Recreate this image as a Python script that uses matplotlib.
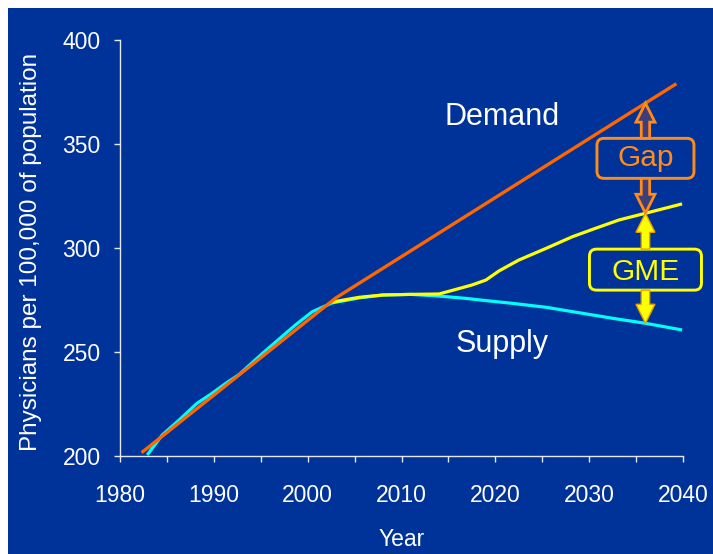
import matplotlib
matplotlib.use('Agg')
import matplotlib.pyplot as plt
import numpy as np
from matplotlib.patches import Rectangle, FancyBboxPatch, Polygon
from matplotlib.transforms import IdentityTransform
from matplotlib.ticker import MultipleLocator

plt.rcParams['font.family'] = ['Liberation Sans', 'DejaVu Sans']

# ---------------- data ----------------
demand_years = [1982.3, 2003.0, 2039.3]
demand_vals = [201.6, 276.0, 379.0]

supply_years = [1982.9, 1984.5, 1986.3, 1988.2, 1989.8, 1991.3, 1992.7, 1995.2,
                1996.9, 1998.7, 2000.5, 2002.6, 2005.5, 2008.0, 2011.0, 2014.0,
                2016.8, 2019.0, 2021.8, 2025.4, 2028.9, 2032.5, 2036.0, 2039.9]
supply_vals = [200.5, 210.1, 217.3, 225.3, 230.1, 235.0, 239.2, 249.4,
               256.0, 263.0, 269.4, 273.6, 276.0, 277.4, 277.7, 276.9,
               275.8, 274.7, 273.4, 271.5, 268.9, 266.2, 263.8, 260.6]

gme_years = [2002.6, 2005.5, 2008.0, 2011.0, 2014.0, 2015.8, 2017.5, 2019.0,
             2020.4, 2022.5, 2025.4, 2028.2, 2030.7, 2033.2, 2036.0, 2039.9]
gme_vals = [274.0, 276.3, 277.4, 277.7, 277.9, 280.1, 282.2, 284.6,
            289.0, 294.2, 299.8, 305.4, 309.5, 313.5, 316.7, 321.2]

x_ticks = [1980, 1990, 2000, 2010, 2020, 2030, 2040]
y_ticks = [200, 250, 300, 350, 400]
marker_year = 2036.0

# ---------------- style ----------------
BG = '#003399'
AXC = '#E6E9F2'
C_DEM = '#FF6600'
C_SUP = '#00FFFF'
C_GME = '#FFFF00'
C_GAP = '#FF8C1A'

W, H = 713, 554
fig = plt.figure(figsize=(W / 100, H / 100), dpi=100)
fig.patch.set_facecolor('white')
fig.add_artist(Rectangle((8 / W, 0), (W - 8) / W, (H - 8) / H,
                         transform=fig.transFigure, facecolor=BG,
                         edgecolor='none', zorder=0))

ax = fig.add_axes([120 / W, 98 / H, 563 / W, 416 / H])
ax.set_facecolor('none')
ax.set_xlim(1980, 2040)
ax.set_ylim(200, 400)

for s in ['top', 'right']:
    ax.spines[s].set_visible(False)
for s in ['left', 'bottom']:
    ax.spines[s].set_color(AXC)
    ax.spines[s].set_linewidth(1.0)

ax.set_xticks(x_ticks)
ax.xaxis.set_minor_locator(MultipleLocator(5))
ax.set_yticks(y_ticks)
ax.tick_params(axis='x', which='both', direction='out', length=4.0, width=1,
               color=AXC, labelcolor='white', labelsize=16.5, pad=16.2)
ax.tick_params(axis='y', which='both', direction='out', length=4.3, width=1,
               color=AXC, labelcolor='white', labelsize=16.5, pad=9.5)

ax.set_xlabel('Year', fontsize=16.5, color='white', va='baseline')
ax.xaxis.set_label_coords(0.5, -90 / 416)
ax.set_ylabel('Physicians per 100,000 of population', fontsize=17.5,
              color='white', va='center')
ax.yaxis.set_label_coords((31 - 120) / 563, (456 - 251.5) / 416)

# ---------------- lines ----------------
ax.plot(supply_years, supply_vals, color=C_SUP, lw=2.3, zorder=2,
        solid_capstyle='butt')
ax.plot(gme_years, gme_vals, color=C_GME, lw=2.3, zorder=3,
        solid_capstyle='butt')
ax.plot(demand_years, demand_vals, color=C_DEM, lw=2.4, zorder=4,
        solid_capstyle='butt')

ax.text(2020.7, 359.1, 'Demand', fontsize=22, color='white',
        ha='center', va='baseline')
ax.text(2020.7, 250.1, 'Supply', fontsize=22, color='white',
        ha='center', va='baseline')

# ---------------- gap / GME annotation ----------------
T = ax.transData
xd = T.transform((marker_year, 300))[0]
y_dem = T.transform((marker_year, np.interp(marker_year, demand_years, demand_vals)))[1]
y_gme = T.transform((marker_year, np.interp(marker_year, gme_years, gme_vals)))[1]
y_sup = T.transform((marker_year, np.interp(marker_year, supply_years, supply_vals)))[1]

gap_cy = T.transform((marker_year, 343.1))[1]
gme_cy = T.transform((marker_year, 289.6))[1]
gap_w, gap_h = 97, 40
gme_w, gme_h = 112, 41


def add_box(cx, cy, w, h, ec):
    p = FancyBboxPatch((cx - w / 2, cy - h / 2), w, h,
                       boxstyle='round,pad=0,rounding_size=7',
                       transform=IdentityTransform(), facecolor='none',
                       edgecolor=ec, lw=2.1, zorder=6)
    fig.add_artist(p)


def add_arrow(x, y_base, y_tip, fc, ec, lw):
    s = np.sign(y_tip - y_base)
    hl, hw, sw = 19, 9.5, 4.2
    yh = y_tip - s * hl
    verts = [(x - sw, y_base), (x - sw, yh), (x - hw, yh), (x, y_tip),
             (x + hw, yh), (x + sw, yh), (x + sw, y_base)]
    p = Polygon(verts, closed=True, transform=IdentityTransform(),
                facecolor=fc, edgecolor=ec, lw=lw, joinstyle='miter',
                zorder=6)
    fig.add_artist(p)


add_box(xd, gap_cy, gap_w, gap_h, C_GAP)
add_box(xd, gme_cy, gme_w, gme_h, C_GME)

add_arrow(xd, gap_cy + gap_h / 2, y_dem, '#3f3d7a', C_GAP, 2.0)
add_arrow(xd, gap_cy - gap_h / 2, y_gme, '#3f3d7a', C_GAP, 2.0)
add_arrow(xd, gme_cy + gme_h / 2, y_gme, C_GME, '#E8A000', 1.0)
add_arrow(xd, gme_cy - gme_h / 2, y_sup, C_GME, '#E8A000', 1.0)

ax.text(marker_year, 339.4, 'Gap', fontsize=21.5, color=C_GAP,
        ha='center', va='baseline', zorder=7)
ax.text(marker_year, 284.6, 'GME', fontsize=21.5, color=C_GME,
        ha='center', va='baseline', zorder=7)

fig.savefig('out.png', dpi=100)
